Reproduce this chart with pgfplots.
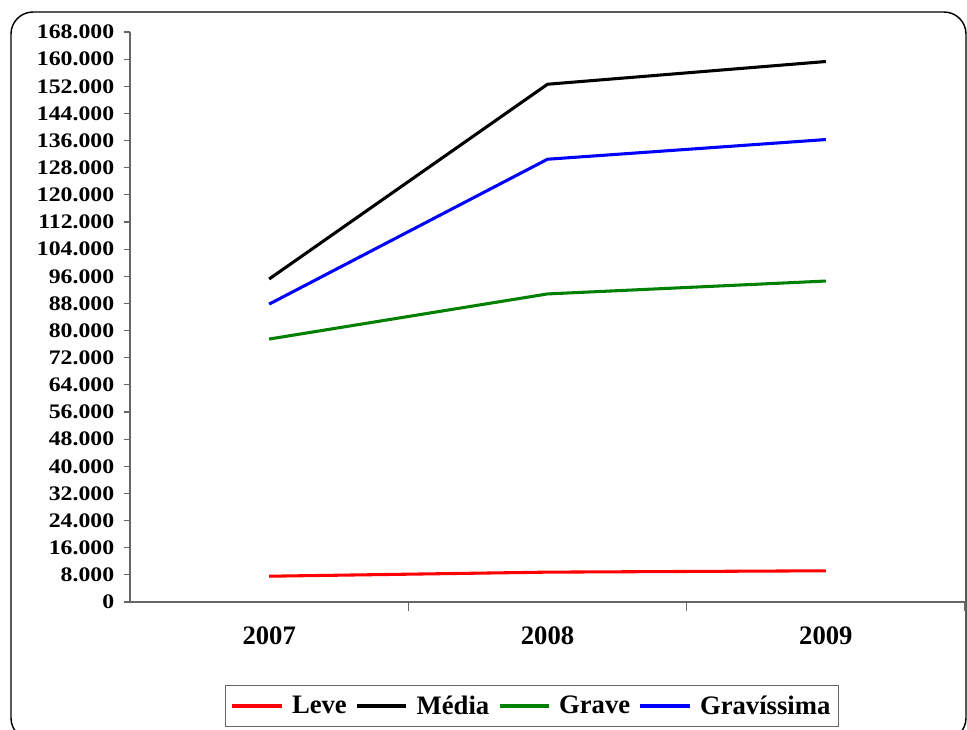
\documentclass[border=0pt]{standalone}
\usepackage{pgfplots}
\pgfplotsset{compat=1.18}
\usepackage{fontspec}
\setmainfont{Liberation Serif}
\newfontfamily\ytfont{Liberation Serif}[FakeStretch=1.15]
\definecolor{dgreen}{RGB}{0,128,0}
\begin{document}
\begin{tikzpicture}
\useasboundingbox (0,0) rectangle (725.25pt,546.75pt);
\draw[line width=1.1pt, rounded corners=16.5pt] (8.25pt,-8.25pt) rectangle (724.5pt,537.75pt);
\begin{axis}[
  at={(97.5pt,95.25pt)}, anchor=south west,
  scale only axis, width=626.25pt, height=427.5pt,
  xmin=-0.5, xmax=2.5, ymin=0, ymax=168000,
  axis lines*=left,
  axis line style={black!60, line width=0.8pt},
  xtick={0,1,2}, xticklabels={2007,2008,2009},
  minor xtick={0.5,1.5,2.5},
  ytick={0,8000,...,168000},
  tick align=outside,
  major tick length=4.5pt, minor tick length=6.75pt,
  major x tick style={draw=none},
  minor x tick style={black!60, line width=0.8pt},
  y tick style={black!60, line width=0.8pt},
  scaled y ticks=false,
  yticklabel={\pgfmathprintnumber[fixed,precision=0,1000 sep={.},assume math mode=true]{\tick}},
  xticklabel style={font=\fontsize{20}{24}\selectfont\bfseries, yshift=-10.5pt},
  yticklabel style={font=\ytfont\fontsize{15.5}{18}\selectfont\bfseries, xshift=-3.8pt},
  legend columns=4,
  legend style={at={(0.4814,-0.1825)}, anchor=center, draw=black!60, line width=0.8pt,
    font=\fontsize{20}{24}\selectfont\bfseries, inner xsep=4pt, inner ysep=5.5pt,
    /tikz/every odd column/.append style={column sep=4.5pt},
    /tikz/every even column/.append style={column sep=4.5pt}},
  legend image code/.code={\draw[#1, line width=2.4pt] (0pt,0pt) -- (37pt,0pt);},
  every axis plot/.append style={line width=2.3pt},
]
\addplot[red] coordinates {(0,7600) (1,8800) (2,9200)};
\addlegendentry{Leve}
\addplot[black] coordinates {(0,95200) (1,152600) (2,159300)};
\addlegendentry{Média}
\addplot[dgreen] coordinates {(0,77500) (1,90800) (2,94600)};
\addlegendentry{Grave}
\addplot[blue] coordinates {(0,87800) (1,130500) (2,136300)};
\addlegendentry{Gravíssima}
\end{axis}
\end{tikzpicture}
\end{document}
